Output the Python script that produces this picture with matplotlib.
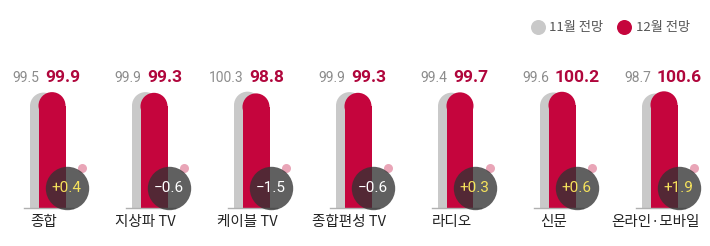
import matplotlib.pyplot as plt
from matplotlib.patches import Ellipse

plt.rcParams['font.family'] = ['Noto Sans CJK KR', 'DejaVu Sans']

categories = ['종합', '지상파 TV', '케이블 TV', '종합편성 TV', '라디오', '신문', '온라인·모바일']
nov = [99.5, 99.9, 100.3, 99.9, 99.4, 99.6, 98.7]
dec = [99.9, 99.3, 98.8, 99.3, 99.7, 100.2, 100.6]
change = [0.4, -0.6, -1.5, -0.6, 0.3, 0.6, 1.9]

GRAY = '#c9c9c9'
RED = '#c5053d'
NUM_FONT = ['Roboto', 'DejaVu Sans']

W, H = 710, 246
fig = plt.figure(figsize=(W / 100, H / 100), dpi=100)
ax = fig.add_axes([0, 0, 1, 1])

# pixel scale: 102 px per category, 1.16 px per value unit
px_x = 102.0
px_y = 1.16
x0_px = 43.5
base_px = 38.0
ax.set_xlim(-x0_px / px_x, (W - x0_px) / px_x)
ax.set_ylim(-base_px / px_y, (H - base_px) / px_y)
ax.axis('off')

bw = 27 / px_x
off = 8.5 / px_x
ry = (27 / 2) / px_y
label_y = (H - base_px - 78) / px_y


def rounded_bar(x, v, color, z):
    ax.bar(x, v - ry, width=bw, color=color, zorder=z, linewidth=0)
    ax.add_patch(Ellipse((x, v - ry), bw, 2 * ry, color=color, zorder=z, linewidth=0))


for i, cat in enumerate(categories):
    rounded_bar(i, nov[i], GRAY, 1)
    rounded_bar(i + off, dec[i], RED, 2)
    ax.plot([i - 19.5 / px_x, i + 29.5 / px_x], [0, 0], color='#b0b0b0', lw=1, zorder=3)

    # value labels
    ax.text(i + 1.5 / px_x, label_y, f'{dec[i]:.1f}', ha='left', va='center',
            fontsize=12.5, fontweight='bold', color='#b0063c', family=NUM_FONT)
    ax.text(i - 4.5 / px_x, label_y, f'{nov[i]:.1f}', ha='right', va='center',
            fontsize=10, fontweight='normal', color='#8c8c8c', family=NUM_FONT)

    # change badge
    cx = i + 23.2 / px_x
    cy = 20 / px_y
    ax.scatter([i + 38.8 / px_x], [40 / px_y], s=(9 * 0.72) ** 2, color='#e9a5b7', zorder=4, linewidths=0)
    ax.scatter([cx], [cy], s=(43.4 * 0.72) ** 2, color='#333333', alpha=0.78, zorder=5, linewidths=0)
    d = change[i]
    label = f'+{d:.1f}' if d > 0 else f'\u2212{abs(d):.1f}'
    ax.text(cx, cy, label, ha='center', va='center', fontsize=11,
            color='#f6e35c' if d > 0 else 'white', zorder=6, family=NUM_FONT)

    ax.text(i, -14 / px_y, cat, ha='center', va='center', fontsize=10.5, color='#222222')

# legend
ly = (H - 27) / px_y - base_px / px_y
ax.scatter([(537.7 - x0_px) / px_x], [ly], s=(15 * 0.72) ** 2, color=GRAY, linewidths=0)
ax.text((549 - x0_px) / px_x, ly, '11월 전망', ha='left', va='center', fontsize=9.5,
        fontweight='medium', color='#555555')
ax.scatter([(624 - x0_px) / px_x], [ly], s=(15 * 0.72) ** 2, color=RED, linewidths=0)
ax.text((636 - x0_px) / px_x, ly, '12월 전망', ha='left', va='center', fontsize=9.5,
        fontweight='medium', color='#555555')

fig.savefig('out.png', dpi=100)
